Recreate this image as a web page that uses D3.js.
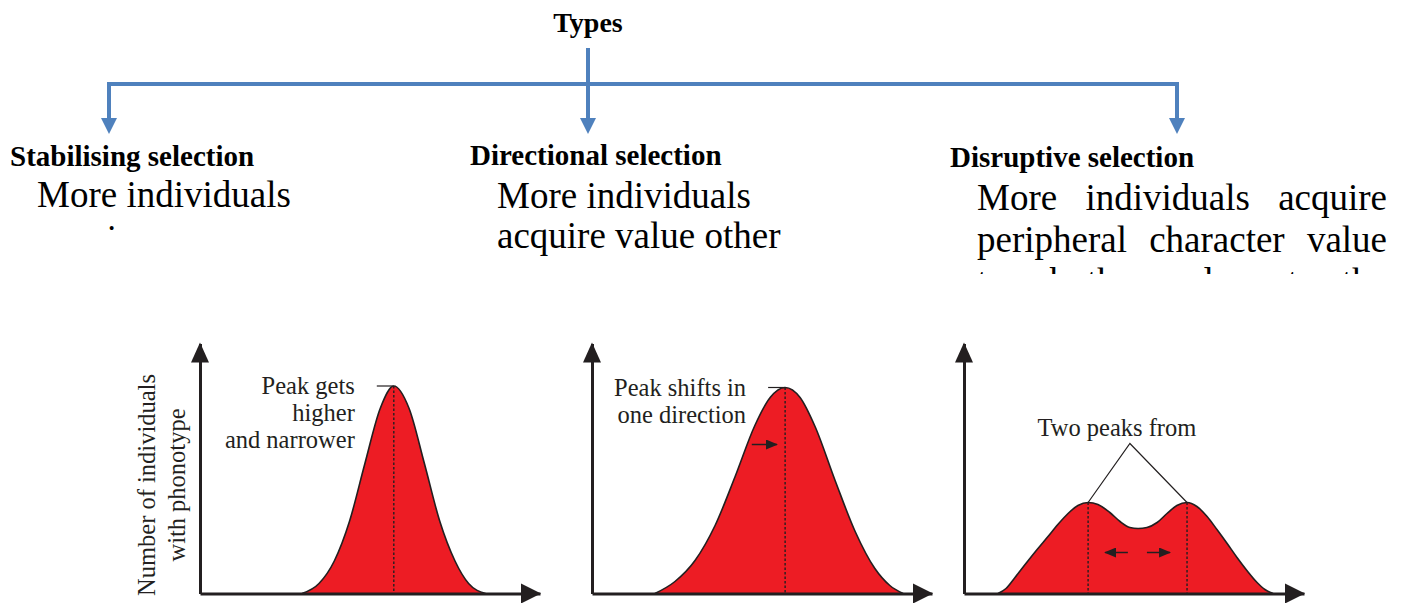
<!DOCTYPE html>
<html><head><meta charset="utf-8">
<script src="https://cdn.jsdelivr.net/npm/d3@7"></script>
<style>body{margin:0;background:#fff}svg{display:block}</style>
</head><body>
<svg id="c" width="1405" height="603"></svg>
<script>
// ---------- data ----------
const title = "Types";
const headings = ["Stabilising selection", "Directional selection", "Disruptive selection"];
const descLines = [
  ["More individuals", "acquire mean", "character value"],
  ["More individuals", "acquire value other", "than the mean", "character value"],
  ["More individuals acquire", "peripheral character value", "to both ends at the", "expense of the mean"]
];
const chartLabels = [["Peak gets", "higher", "and narrower"], ["Peak shifts in", "one direction"], ["Two peaks from"]];
const yLabel = ["Number of individuals", "with phonotype"];

// phenotype value (0-100) vs number of individuals (0-100)
const stabX = [30, 35, 39.5, 44, 48.5, 53, 57, 61.5, 66, 70.5, 75, 79, 84];
const stabY = [0, 4, 13, 29, 52, 74, 83, 74, 52, 29, 13, 4, 0];
const dirX = [18.5, 24.4, 30.3, 36.2, 42.1, 47.9, 52.4, 56.8, 61.2, 65.6, 71.5, 77.4, 83.2, 87.6, 91.5];
const dirY = [0, 4.8, 13.2, 27.2, 46.8, 67.2, 78.4, 82.4, 78.4, 66.8, 45.2, 24.8, 10, 3.2, 0];
const disX = [10, 12.35, 15, 18.2, 21.5, 24.7, 27.6, 30.6, 33.5, 36.5, 39.4, 42.9, 45.9, 48.8, 51.2, 53.8, 56.8, 59.7, 62.6, 65.6, 68.5, 71.5, 74.4, 77.4, 80.3, 83.2, 86.2, 88.5, 90.9];
const disY = [0, 2, 6.4, 12, 17.6, 22.8, 27.6, 32, 35.2, 36.4, 35.6, 32.4, 28.8, 26.4, 26, 26.4, 28.4, 32, 35.2, 36.4, 34.8, 30.8, 25.6, 20, 14.4, 9.2, 4.4, 1.6, 0];
const peakIdx = [[6], [7], [9, 19]];
// annotation anchors (data units)
const shiftArrows = [[], [[47, 54.4, 59.6]], [[48.2, 41.5, 16.4], [53.8, 60.6, 16.4]]];
const apex = [48.8, 60];

// ---------- drawing ----------
const svg = d3.select("#c");
const blue = "#4f81bd", ink = "#231f20", red = "#ed1c24";
const serif = "'Liberation Serif','Times New Roman',serif";

// top title and connectors
svg.append("text").attr("x", 588).attr("y", 32).attr("text-anchor", "middle")
  .attr("font-family", serif).attr("font-weight", "bold").attr("font-size", 28).text(title);
const conn = svg.append("g").attr("stroke", blue).attr("stroke-width", 4).attr("fill", "none");
conn.append("path").attr("d", "M109,119V84H1177V119").attr("stroke-linejoin", "miter");
conn.append("path").attr("d", "M588,48V119");
[109, 588, 1177].forEach(x => {
  svg.append("path").attr("d", `M${x - 8},118L${x + 8},118L${x},134Z`).attr("fill", blue);
});

// headings & descriptions
const headPos = [[10, 166], [470, 165], [950, 167]];
const descPos = [{x: 37, y: 207, lh: 44, clip: 232, w: 0}, {x: 497, y: 208, lh: 40, clip: 258, w: 0}, {x: 977, y: 210, lh: 42, clip: 274, w: 410}];
const defs = svg.append("defs");
headings.forEach((h, i) => {
  svg.append("text").attr("x", headPos[i][0]).attr("y", headPos[i][1])
    .attr("font-family", serif).attr("font-weight", "bold").attr("font-size", 29).text(h);
  const p = descPos[i];
  defs.append("clipPath").attr("id", "clip" + i).append("rect")
    .attr("x", 0).attr("y", 0).attr("width", 1405).attr("height", p.clip);
  const g = svg.append("g").attr("clip-path", `url(#clip${i})`)
    .attr("font-family", serif).attr("font-size", 37).attr("fill", "#000");
  descLines[i].forEach((line, j) => {
    const yb = p.y + j * p.lh;
    if (p.w > 0 && j < descLines[i].length - 1) {
      const words = line.split(" ");
      const els = words.map(wd => g.append("text").attr("y", yb).text(wd));
      const widths = els.map(e => e.node().getComputedTextLength());
      const gap = (p.w - d3.sum(widths)) / (words.length - 1);
      let cx = p.x;
      els.forEach((e, k) => { e.attr("x", cx); cx += widths[k] + gap; });
    } else {
      g.append("text").attr("x", p.x).attr("y", yb).text(line);
    }
  });
});

// charts
const origins = [[200, 593.5], [592, 593.5], [964, 593.5]];
const series = [[stabX, stabY], [dirX, dirY], [disX, disY]];
const x = d3.scaleLinear().domain([0, 100]).range([0, 340]);
const y = d3.scaleLinear().domain([0, 100]).range([0, -250]);

svg.append("defs").append("marker").attr("id", "ah").attr("viewBox", "0 0 12 10")
  .attr("refX", 11).attr("refY", 5).attr("markerWidth", 12).attr("markerHeight", 10)
  .attr("markerUnits", "userSpaceOnUse").attr("orient", "auto")
  .append("path").attr("d", "M0,0L12,5L0,10Z").attr("fill", ink);

series.forEach(([xs, ys], i) => {
  const g = svg.append("g").attr("transform", `translate(${origins[i][0]},${origins[i][1]})`);
  const pts = xs.map((v, k) => [v, ys[k]]);
  g.append("path").datum(pts).attr("fill", red)
    .attr("d", d3.area().x(d => x(d[0])).y0(y(0)).y1(d => y(d[1])).curve(d3.curveMonotoneX));
  g.append("path").datum(pts).attr("fill", "none").attr("stroke", ink).attr("stroke-width", 1.6)
    .attr("d", d3.line().x(d => x(d[0])).y(d => y(d[1])).curve(d3.curveMonotoneX));
  // dotted peak lines
  peakIdx[i].forEach(k => {
    g.append("line").attr("x1", x(xs[k])).attr("x2", x(xs[k])).attr("y1", y(ys[k])).attr("y2", y(0))
      .attr("stroke", ink).attr("stroke-width", 1.4).attr("stroke-dasharray", "2.5,2");
  });
  // axes
  const ax = g.append("g").call(d3.axisBottom(x).tickValues([]).tickSizeOuter(0));
  const ay = g.append("g").call(d3.axisLeft(y).tickValues([]).tickSizeOuter(0));
  [ax, ay].forEach(a => a.select(".domain").attr("stroke", ink).attr("stroke-width", 3));
  g.append("path").attr("d", `M${x(100) + 1},0L${x(100) - 19},-10L${x(100) - 19},10Z`).attr("fill", ink);
  g.append("path").attr("d", `M0,${y(100) - 1}L-9,${y(100) + 19}L9,${y(100) + 19}Z`).attr("fill", ink);

  const lab = g.append("g").attr("font-family", serif).attr("font-size", 24.5).attr("fill", ink);
  if (i < 2) {
    const k = peakIdx[i][0];
    const px = x(xs[k]), py = y(ys[k]);
    g.append("line").attr("x1", px - 17).attr("x2", px).attr("y1", py).attr("y2", py)
      .attr("stroke", ink).attr("stroke-width", 1.2);
    chartLabels[i].forEach((t, j) => {
      lab.append("text").attr("x", px - 39).attr("y", py + 8 + j * 27)
        .attr("text-anchor", "end").text(t);
    });
  } else {
    const ax0 = x(apex[0]), ay0 = y(apex[1]);
    const pk = peakIdx[i].map(k => [x(xs[k]), y(ys[k])]);
    g.append("path").attr("d", `M${pk[0][0]},${pk[0][1]}L${ax0},${ay0}L${pk[1][0]},${pk[1][1]}`)
      .attr("fill", "none").attr("stroke", ink).attr("stroke-width", 1.2);
    lab.append("text").attr("x", ax0 - 13).attr("y", ay0 - 8).attr("text-anchor", "middle").text(chartLabels[i][0]);
  }
  shiftArrows[i].forEach(([a, b, v]) => {
    g.append("line").attr("x1", x(a)).attr("x2", x(b)).attr("y1", y(v)).attr("y2", y(v))
      .attr("stroke", ink).attr("stroke-width", 1.5).attr("marker-end", "url(#ah)");
  });
  if (i === 0) {
    const yl = svg.append("g").attr("font-family", serif).attr("font-size", 24.5).attr("fill", ink);
    yLabel.forEach((t, j) => {
      yl.append("text").attr("transform", `translate(${155 + j * 30},485) rotate(-90)`)
        .attr("text-anchor", "middle").text(t);
    });
  }
});
</script>
</body></html>
